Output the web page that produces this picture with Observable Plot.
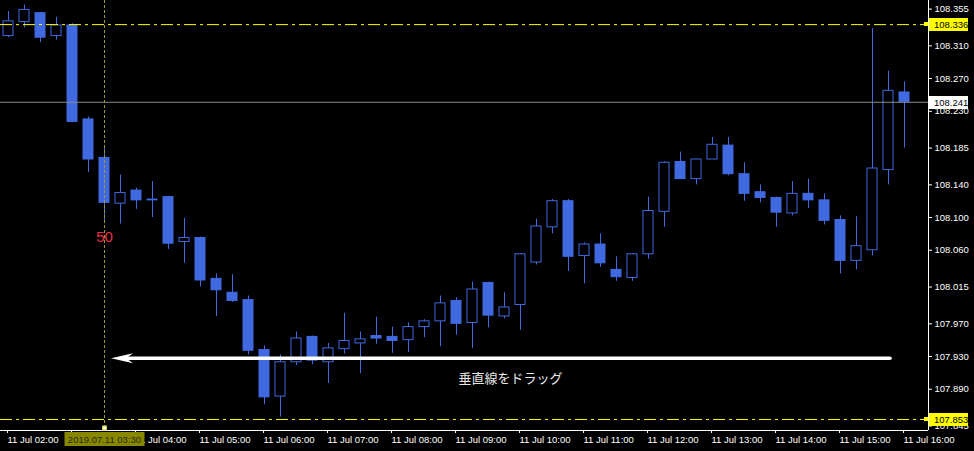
<!DOCTYPE html>
<html>
<head>
<meta charset="utf-8">
<script src="https://cdn.jsdelivr.net/npm/d3@7"></script>
<script src="https://cdn.jsdelivr.net/npm/@observablehq/plot@0.6"></script>
<style>
html,body{margin:0;padding:0;background:#000;overflow:hidden}
</style>
</head>
<body>
<div id="chart"></div>
<script>
// ---- data (USDJPY M15, 11 Jul 2019) ----
const times = ["02:00","02:15","02:30","02:45","03:00","03:15","03:30","03:45",
  "04:00","04:15","04:30","04:45","05:00","05:15","05:30","05:45",
  "06:00","06:15","06:30","06:45","07:00","07:15","07:30","07:45",
  "08:00","08:15","08:30","08:45","09:00","09:15","09:30","09:45",
  "10:00","10:15","10:30","10:45","11:00","11:15","11:30","11:45",
  "12:00","12:15","12:30","12:45","13:00","13:15","13:30","13:45",
  "14:00","14:15","14:30","14:45","15:00","15:15","15:30","15:45","16:00"];
const opens = [108.322,108.339,108.350,108.322,108.335,108.220,108.173,108.117,
  108.133,108.121,108.125,108.070,108.075,108.025,108.008,107.999,
  107.938,107.881,107.923,107.954,107.923,107.939,107.946,107.955,
  107.954,107.950,107.966,107.973,107.998,107.971,108.020,107.979,
  107.993,108.045,108.088,108.120,108.053,108.067,108.036,108.026,
  108.055,108.107,108.168,108.147,108.171,108.188,108.153,108.131,
  108.124,108.105,108.129,108.121,108.097,108.047,108.060,108.158,108.253];
const highs = [108.352,108.360,108.351,108.345,108.337,108.223,108.186,108.152,
  108.136,108.144,108.126,108.099,108.076,108.031,108.030,108.004,
  107.943,107.932,107.960,107.955,107.946,107.983,107.960,107.978,
  107.966,107.971,107.975,108.004,108.002,108.021,108.021,108.008,
  108.056,108.098,108.122,108.122,108.069,108.080,108.052,108.056,
  108.125,108.168,108.180,108.171,108.198,108.198,108.167,108.140,
  108.125,108.144,108.147,108.129,108.102,108.101,108.331,108.279,108.266];
const lows = [108.320,108.332,108.314,108.317,108.216,108.155,108.093,108.092,
  108.110,108.100,108.061,108.044,108.015,107.979,107.996,107.932,
  107.871,107.856,107.919,107.920,107.897,107.933,107.909,107.945,
  107.934,107.935,107.953,107.942,107.956,107.940,107.965,107.976,
  107.962,108.042,108.080,108.034,108.019,108.039,108.022,108.022,
  108.049,108.088,108.147,108.140,108.171,108.151,108.120,108.118,
  108.088,108.102,108.111,108.091,108.031,108.036,108.053,108.140,108.185];
const closes = [108.340,108.354,108.320,108.335,108.217,108.171,108.118,108.130,
  108.121,108.122,108.068,108.075,108.023,108.011,107.998,107.937,
  107.880,107.923,107.952,107.925,107.940,107.949,107.951,107.952,
  107.949,107.966,107.973,107.995,107.970,108.012,107.980,107.990,
  108.055,108.089,108.120,108.052,108.067,108.044,108.027,108.055,
  108.108,108.167,108.147,108.171,108.189,108.153,108.129,108.124,
  108.106,108.129,108.121,108.096,108.047,108.065,108.160,108.255,108.241];

const xTickTimes = ["02:00","03:00","04:00","05:00","06:00","07:00","08:00","09:00",
  "10:00","11:00","12:00","13:00","14:00","15:00","16:00"];
// the 03:00 label is hidden under the vertical line's time tag
const xTickLabels = ["11 Jul 02:00","","11 Jul 04:00","11 Jul 05:00","11 Jul 06:00",
  "11 Jul 07:00","11 Jul 08:00","11 Jul 09:00","11 Jul 10:00","11 Jul 11:00","11 Jul 12:00",
  "11 Jul 13:00","11 Jul 14:00","11 Jul 15:00","11 Jul 16:00"];
const yTicks = [108.355,108.310,108.270,108.230,108.185,108.140,108.100,108.060,
  108.015,107.970,107.930,107.890,107.845];

const highLine = 108.336;      // yellow
const lowLine = 107.853;       // yellow
const bidLine = 108.241;       // gray
const vLineTime = "03:30";
const vLineLabel = "2019.07.11 03:30";
const vLineNote = "50";
const vLineNotePrice = 108.076;
const arrowPrice = 107.928;
const arrowFromIdx = 55.125;   // right end (about 15:47)
const arrowToIdx = 6.41;       // tip (about 03:36)
const arrowText = "垂直線をドラッグ";
const arrowTextIdx = 31.375;

const yDomain = [107.8395, 108.3655];
const xDomain = [-0.5, 57.5];

// ---- build ----
const data = times.map((t, i) => ({i, t, o: opens[i], h: highs[i], l: lows[i], c: closes[i]}));
const idxOf = t => times.indexOf(t);
const xTickIdx = xTickTimes.map(idxOf);
const vIdx = idxOf(vLineTime);
const blue = "#4169e1";
const half = 5 / 16;
const font = "'Liberation Sans', Arial, sans-serif";

const arrowHead = {
  draw(ctx) {
    ctx.moveTo(0, 0);
    ctx.lineTo(22, -5);
    ctx.lineTo(15, 0);
    ctx.lineTo(22, 5);
    ctx.closePath();
  }
};

const plot = Plot.plot({
  width: 974,
  height: 451,
  marginLeft: 0,
  marginRight: 46,
  marginTop: 0,
  marginBottom: 21,
  style: {background: "#000", color: "#fff", fontFamily: font, fontSize: "9.5px"},
  x: {domain: xDomain, label: null},
  y: {domain: yDomain, label: null},
  marks: [
    Plot.ruleX(data, {x: "i", y1: "l", y2: "h", stroke: blue}),
    Plot.rect(data.filter(d => d.c >= d.o), {x1: d => d.i - half, x2: d => d.i + half, y1: "o", y2: "c", fill: "#000", stroke: blue}),
    Plot.rect(data.filter(d => d.c < d.o), {x1: d => d.i - half, x2: d => d.i + half, y1: "o", y2: "c", fill: blue, stroke: blue}),
    Plot.ruleY([bidLine], {stroke: "#8a8a8a"}),
    Plot.ruleY([highLine, lowLine], {stroke: "#ffff00", strokeDasharray: "12,4,3,4"}),
    Plot.ruleX([vIdx], {stroke: "#9a9a30", strokeDasharray: "3,2"}),
    Plot.ruleY([arrowPrice], {x1: arrowToIdx + 0.8, x2: arrowFromIdx, stroke: "#ffffff", strokeWidth: 3.5, strokeLinecap: "round"}),
    Plot.dot([arrowPrice], {x: arrowToIdx, y: d => d, symbol: arrowHead, fill: "#ffffff", stroke: "none", r: 5}),
    Plot.text([arrowText], {x: arrowTextIdx, y: arrowPrice, text: d => d, dy: 21, fill: "#e8e8e8", fontSize: 13, fontFamily: "'Noto Sans CJK JP', sans-serif"}),
    Plot.text([vLineNote], {x: vIdx, y: vLineNotePrice, text: d => d, fill: "#e8304a", fontSize: 15, fontFamily: font}),
    Plot.ruleY([yDomain[0]], {stroke: "#fff"}),
    Plot.ruleX([xDomain[1]], {stroke: "#fff"}),
    Plot.axisX(xTickIdx, {
      anchor: "bottom",
      tickFormat: d => xTickLabels[xTickIdx.indexOf(d)],
      textAnchor: "start", dx: -1, tickSize: 3, tickPadding: 3,
      stroke: "#fff", fill: "#fff", label: null
    }),
    Plot.axisY(yTicks, {
      anchor: "right",
      tickFormat: d => d.toFixed(3),
      tickSize: 3, tickPadding: 3,
      stroke: "#fff", fill: "#fff", label: null
    })
  ]
});

document.getElementById("chart").appendChild(plot);

// ---- highlighted price / time labels using the plot's scales ----
const sx = plot.scale("x"), sy = plot.scale("y");
const svg = d3.select(plot);
const boxLeft = 974 - 46 + 1;
const priceTags = [
  {v: highLine, bg: "#ffff00", fg: "#000"},
  {v: bidLine, bg: "#ffffff", fg: "#000"},
  {v: lowLine, bg: "#ffff00", fg: "#000"}
];
const g = svg.append("g").attr("text-anchor", "start");
priceTags.forEach(p => {
  const y = Math.round(sy.apply(p.v));
  g.append("rect").attr("x", boxLeft).attr("y", y - 6).attr("width", 39).attr("height", 13).attr("fill", p.bg);
  g.append("text").attr("x", boxLeft + 5).attr("y", y + 0.5).attr("dy", "0.35em").attr("text-anchor", "start")
    .attr("font-family", font).attr("font-size", "9.5px").attr("fill", p.fg).text(p.v.toFixed(3));
  if (p.bg === "#ffff00") {
    g.append("rect").attr("x", boxLeft - 5).attr("y", y - 2).attr("width", 4).attr("height", 4)
      .attr("fill", "#ffff00");
  }
});
const cx = sx.apply(vIdx) + 0.5;
g.append("rect").attr("x", cx - 40).attr("y", 432).attr("width", 80).attr("height", 14).attr("fill", "#878700");
g.append("text").attr("x", cx).attr("y", 439.5).attr("dy", "0.35em").attr("text-anchor", "middle")
  .attr("font-family", font).attr("font-size", "9.5px").attr("fill", "#2a2a10").text(vLineLabel);
g.append("rect").attr("x", cx - 2).attr("y", 426).attr("width", 4).attr("height", 4)
  .attr("fill", "#ffffff").attr("stroke", "#cccc33").attr("stroke-width", 1);
</script>
</body>
</html>
